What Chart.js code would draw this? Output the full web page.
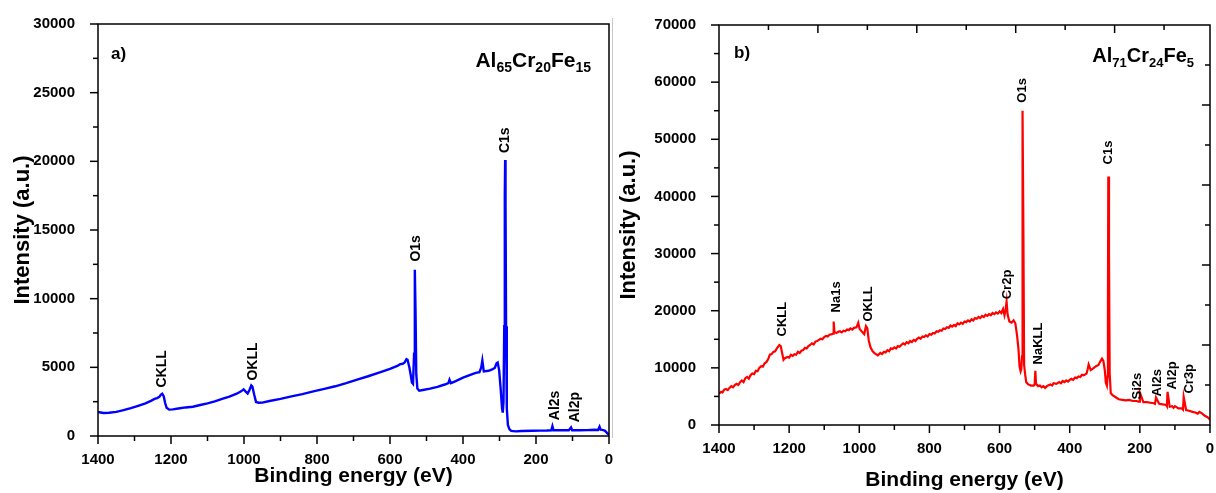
<!DOCTYPE html>
<html>
<head>
<meta charset="utf-8">
<script src="https://cdn.jsdelivr.net/npm/chart.js@4.4.1/dist/chart.umd.min.js"></script>
<style>
  body { margin: 0; background: #fff; }
  #wrap { position: relative; width: 1216px; height: 493px; background: #fff; overflow: hidden; }
  #chartA { position: absolute; left: 0; top: 0; }
  #chartB { position: absolute; left: 612px; top: 0; }
  #sep { position: absolute; left: 612px; top: 18px; width: 1px; height: 420px; background: #c8c8c8; }
</style>
</head>
<body>
<div id="wrap">
  <div id="sep"></div>
  <canvas id="chartA" width="614" height="493"></canvas>
  <canvas id="chartB" width="604" height="493"></canvas>
</div>
<script>
// Panel a) Al65Cr20Fe15 survey spectrum (binding energy in eV, intensity in a.u.)
const energyA = [1400, 1385, 1370, 1350, 1330, 1310, 1290, 1270, 1255, 1245, 1238, 1232, 1228, 1224, 1220, 1216, 1212, 1205, 1195, 1180,
  1160, 1140, 1120, 1100, 1080, 1060, 1040, 1020, 1008, 1001, 996, 990, 985, 980, 977, 972, 967, 960, 950, 930,
  900, 870, 840, 810, 780, 750, 720, 690, 660, 630, 600, 580, 572, 565, 560, 555, 552, 547, 543, 540,
  537, 534, 532, 530, 528, 525, 520, 510, 490, 470, 450, 440, 437, 433, 420, 400, 380, 365, 355, 350,
  347, 343, 330, 320, 313, 308, 305, 301, 297, 293, 291, 289, 287, 285.5, 284.5, 283.5, 282, 280, 277, 273,
  268, 255, 240, 210, 190, 170, 158, 155, 152, 130, 110, 104, 101, 80, 60, 40, 30, 26, 23, 18,
  12, 8, 4, 0];
const intensityA = [1750, 1680, 1690, 1760, 1880, 2030, 2200, 2380, 2560, 2700, 2760, 2850, 3000, 3080, 2900, 2400, 2050, 1920, 1940, 2000,
  2080, 2130, 2260, 2380, 2520, 2700, 2870, 3080, 3250, 3400, 3250, 3100, 3350, 3680, 3600, 3000, 2480, 2420, 2430, 2550,
  2700, 2880, 3050, 3250, 3430, 3620, 3850, 4100, 4350, 4620, 4880, 5100, 5230, 5260, 5350, 5600, 5550, 5000, 4400, 3900,
  3800, 6000, 12100, 9000, 4500, 3450, 3300, 3350, 3450, 3580, 3750, 3850, 4100, 3850, 4000, 4250, 4450, 4600, 4650, 5000,
  5500, 4700, 4750, 4850, 4950, 5300, 5350, 4800, 3500, 2000, 1700, 2500, 8000, 17500, 20100, 17000, 8000, 2000, 800, 500,
  370, 340, 360, 380, 390, 400, 420, 720, 420, 430, 420, 620, 420, 420, 430, 450, 440, 680, 460, 450,
  400, 300, 180, 100];
const peakNamesA = ['CKLL', 'OKLL', 'O1s', 'C1s', 'Al2s', 'Al2p'];
const peakEnergyA = [1225, 975, 529, 285, 148, 93];
const peakIntensityA = [3530, 4040, 12700, 20600, 1150, 1000];

// Panel b) Al71Cr24Fe5 survey spectrum
const energyB = [1400, 1394, 1390, 1385, 1380, 1375, 1370, 1365, 1360, 1355, 1350, 1345, 1340, 1335, 1330, 1325, 1320, 1315, 1310, 1305,
  1300, 1295, 1290, 1285, 1280, 1275, 1270, 1265, 1260, 1255, 1250, 1245, 1240, 1235, 1228,
  1224, 1220, 1216, 1212, 1205, 1200, 1195, 1190, 1185, 1180, 1175, 1170, 1165, 1160, 1155, 1150, 1145, 1140, 1135, 1130,
  1125, 1120, 1115, 1110, 1105, 1100, 1095, 1090, 1085, 1078, 1074, 1073,
  1071, 1065, 1060, 1055, 1050, 1045, 1040, 1035, 1030, 1025, 1020, 1015, 1008, 1003, 999, 992, 986, 981, 977, 973, 968, 962, 955, 947, 940,
  935, 930, 925, 920, 915, 910, 905, 900, 895, 890, 885, 880, 875, 870, 865, 860, 855, 850, 845, 840, 835, 830, 825, 820, 815, 810, 805, 800,
  795, 790, 785, 780, 775, 770, 765, 760, 755, 750, 745, 740, 735,
  730, 725, 720, 715, 710, 705, 700, 695, 690, 685, 680, 675, 670, 665, 660, 655, 650, 645, 640, 635, 630, 625, 620, 615, 610, 605, 600, 595, 590, 586, 583, 580, 577,
  572, 566, 560, 555, 550, 546, 543, 540, 538, 536, 535, 534, 532, 530, 527, 524, 518, 510, 503, 500,
  498, 496, 490, 485, 480, 475, 470, 465, 462, 455, 450, 446, 438, 430, 425, 420, 415, 410, 405, 400, 395, 390, 385, 380, 375, 370, 365, 360, 352, 349, 346,
  340, 333, 325, 318, 313, 308, 304, 300, 297, 294, 292, 291, 290, 288, 286, 283, 278, 270, 260, 250,
  240, 230, 220, 210, 204, 202, 200, 190, 180, 170, 160, 157, 154, 145, 135, 125, 123, 121, 115, 108,
  104, 100, 90, 80, 77, 75, 68, 60, 50, 42, 35, 30, 22, 15, 8, 4, 0];
const intensityB = [5500, 5800, 5700, 6200, 6300, 6100, 6500, 6800, 6600, 7000, 7200, 7000, 7500, 7800, 7500, 8200, 8400, 8100, 8700, 9000,
  8900, 9500, 9400, 10000, 10300, 10200, 10800, 11000, 11500, 12300, 12400, 12800, 12900, 13400, 14000,
  13800, 12600, 11400, 11700, 11900, 11800, 12300, 12100, 12400, 12300, 12800, 12600, 13000, 13100, 13500, 13400, 13800, 14000, 14300, 14100,
  14600, 14700, 14900, 15100, 15000, 15400, 15600, 15500, 15800, 15900, 16000, 18100,
  16300, 16100, 16300, 16400, 16200, 16500, 16400, 16700, 16600, 16900, 16700, 17000, 17100, 17900, 16800, 16300, 15900, 17300, 16900, 14800, 13600, 12900, 12500, 12200, 12600,
  12400, 12800, 12700, 13100, 12900, 13400, 13300, 13600, 13400, 13800, 13700, 14000, 14300, 14100, 14500, 14300, 14700, 14500, 14900, 14700, 15100, 15300, 15100, 15500, 15400, 15700, 15500, 15900,
  15800, 16100, 16000, 16400, 16300, 16600, 16500, 16900, 16800, 17100, 17000, 17400, 17200,
  17500, 17300, 17800, 17600, 17900, 17700, 18100, 18000, 18300, 18100, 18500, 18300, 18700, 18600, 18900, 18700, 19100, 18900, 19300, 19100, 19400, 19200, 19600, 19400, 19700, 19500, 19900, 19600, 20300, 19200, 20100, 21600, 19300,
  18100, 17900, 18300, 17800, 15600, 13200, 10200, 9400, 9800, 12000, 30000, 55000, 33000, 10500, 8800, 7500, 7100, 6900, 6900, 7100,
  9500, 7200, 6800, 6900, 6600, 6800, 6500, 6800, 6900, 7100, 6900, 7300, 7200, 7500, 7300, 7700, 7500, 7800, 7600, 7900, 8100, 7900, 8300, 8200, 8500, 8400, 8800, 8700, 9000, 9700, 10600, 9600,
  9900, 10300, 10500, 11100, 11600, 11200, 9600, 7400, 6900, 8500, 20000, 43500, 30000, 9000, 5600, 5200, 4900, 4500, 4400, 4300,
  4400, 4200, 4200, 4100, 4100, 5700, 4000, 4000, 3900, 3800, 3700, 4800, 3700, 3600, 3500, 3300, 5800, 3200, 3300, 3000,
  3300, 2900, 2900, 2700, 4900, 2600, 2500, 2300, 2200, 2000, 2300, 2000, 1600, 1400, 1200, 900, 400];
const peakNamesB = ['CKLL', 'Na1s', 'OKLL', 'Cr2p', 'O1s', 'NaKLL', 'C1s', 'Si2s', 'Al2s', 'Al2p', 'Cr3p'];
const peakEnergyB = [1220, 1066, 975, 579, 536, 488, 291, 208, 151, 106, 60];
const peakIntensityB = [15500, 19700, 18100, 22000, 56400, 10600, 45600, 4460, 4990, 6200, 5500];

const FONT = '"Liberation Sans", Arial, Helvetica, sans-serif';
Chart.defaults.color = '#000';
Chart.defaults.font.family = FONT;

// draws the frame, the tick marks, the peak names and the panel captions
const decor = {
  id: 'decor',
  afterDraw(chart, args, o) {
    const { ctx, chartArea: a, scales: { x, y } } = chart;
    ctx.save();
    ctx.strokeStyle = '#000';
    ctx.lineWidth = 1.5;
    ctx.strokeRect(a.left, a.top, a.right - a.left, a.bottom - a.top);

    const seg = (x1, y1, x2, y2) => { ctx.beginPath(); ctx.moveTo(x1, y1); ctx.lineTo(x2, y2); ctx.stroke(); };
    for (let e = 0; e <= 1400; e += 100) {
      const px = x.getPixelForValue(e);
      seg(px, a.bottom, px, a.bottom + (e % 200 === 0 ? 8 : 5));
    }
    for (let v = 0; v <= y.max; v += o.yMinor) {
      const py = y.getPixelForValue(v);
      seg(a.left - (v % o.yMajor === 0 ? 8 : 5), py, a.left, py);
    }
    if (o.mirror) {
      for (let k = 1; 1400 - k * o.topStep > 0; k++) {
        const px = x.getPixelForValue(1400 - k * o.topStep);
        seg(px, a.top, px, a.top + (k % 2 === 0 ? 8 : 5));
      }
      for (let k = 1; k * o.rightStep < y.max; k++) {
        const py = y.getPixelForValue(k * o.rightStep);
        seg(a.right - (k % 2 === 0 ? 8 : 5), py, a.right, py);
      }
    }

    // peak names, rotated, starting just above the peak
    ctx.fillStyle = '#000';
    ctx.font = 'bold ' + o.peakSize + 'px ' + FONT;
    ctx.textAlign = 'left';
    ctx.textBaseline = 'middle';
    o.names.forEach((n, i) => {
      ctx.save();
      ctx.translate(x.getPixelForValue(o.energies[i]), y.getPixelForValue(o.intensities[i]));
      ctx.rotate(-Math.PI / 2);
      ctx.fillText(n, 0, 0);
      ctx.restore();
    });

    // panel letter
    ctx.textBaseline = 'alphabetic';
    ctx.font = 'bold 17px ' + FONT;
    ctx.fillText(o.panel, a.left + o.panelX, o.panelY);

    // composition with subscripts, right aligned
    const big = 'bold ' + o.formSize + 'px ' + FONT;
    const small = 'bold ' + Math.round(o.formSize * 0.65) + 'px ' + FONT;
    let w = 0;
    o.formula.forEach(p => { ctx.font = p[1] ? small : big; w += ctx.measureText(p[0]).width; });
    let cx = a.right - o.formRight - w;
    o.formula.forEach(p => {
      ctx.font = p[1] ? small : big;
      ctx.fillText(p[0], cx, o.formY + (p[1] ? 5 : 0));
      cx += ctx.measureText(p[0]).width;
    });
    ctx.restore();
  }
};

function makeChart(id, energies, intensities, color, lineW, yMax, yStep, pad, yWidth, xHeight, titles, deco) {
  const pts = energies.map((e, i) => ({ x: e, y: intensities[i] }));
  return new Chart(document.getElementById(id), {
    type: 'scatter',
    data: {
      datasets: [{
        data: pts,
        showLine: true,
        borderColor: color,
        backgroundColor: color,
        borderWidth: lineW,
        pointRadius: 0,
        tension: 0
      }]
    },
    options: {
      responsive: false,
      animation: false,
      layout: { padding: pad },
      plugins: { legend: { display: false }, tooltip: { enabled: false }, decor: deco },
      scales: {
        x: {
          type: 'linear',
          reverse: true,
          min: 0,
          max: 1400,
          grid: { display: false },
          border: { display: false },
          ticks: { stepSize: 200, padding: 7, maxRotation: 0, font: { size: 15, weight: 'bold' }, callback: v => String(v) },
          title: { display: true, text: 'Binding energy (eV)', font: { size: 21, weight: 'bold' }, padding: { top: 0, bottom: titles.xPad } },
          afterFit: s => { s.height = xHeight; s.paddingLeft = 0; s.paddingRight = 0; }
        },
        y: {
          min: 0,
          max: yMax,
          grid: { display: false },
          border: { display: false },
          ticks: { stepSize: yStep, padding: 15, font: { size: 15, weight: 'bold' }, callback: v => String(v) },
          title: { display: true, text: 'Intensity (a.u.)', font: { size: 22, weight: 'bold' }, padding: { top: titles.yPad, bottom: 0 } },
          afterFit: s => { s.width = yWidth; }
        }
      }
    },
    plugins: [decor]
  });
}

makeChart('chartA', energyA, intensityA, '#0000ff', 2.4, 30000, 5000,
  { top: 20, right: 5, left: 0, bottom: 0 }, 98, 57, { xPad: 4, yPad: 10 },
  { yMajor: 5000, yMinor: 2500, mirror: false, names: peakNamesA, energies: peakEnergyA, intensities: peakIntensityA, peakSize: 14,
    panel: 'a)', panelX: 13, panelY: 59,
    formula: [['Al', false], ['65', true], ['Cr', false], ['20', true], ['Fe', false], ['15', true]], formSize: 21, formRight: 18, formY: 67 });

makeChart('chartB', energyB, intensityB, '#ff0000', 2.2, 70000, 10000,
  { top: 25, right: 6, left: 0, bottom: 0 }, 107, 68, { xPad: 0, yPad: 4 },
  { yMajor: 10000, yMinor: 5000, mirror: true, topStep: 141, rightStep: 7000, names: peakNamesB, energies: peakEnergyB, intensities: peakIntensityB, peakSize: 13,
    panel: 'b)', panelX: 15, panelY: 58,
    formula: [['Al', false], ['71', true], ['Cr', false], ['24', true], ['Fe', false], ['5', true]], formSize: 20, formRight: 16, formY: 62 });
</script>
</body>
</html>
